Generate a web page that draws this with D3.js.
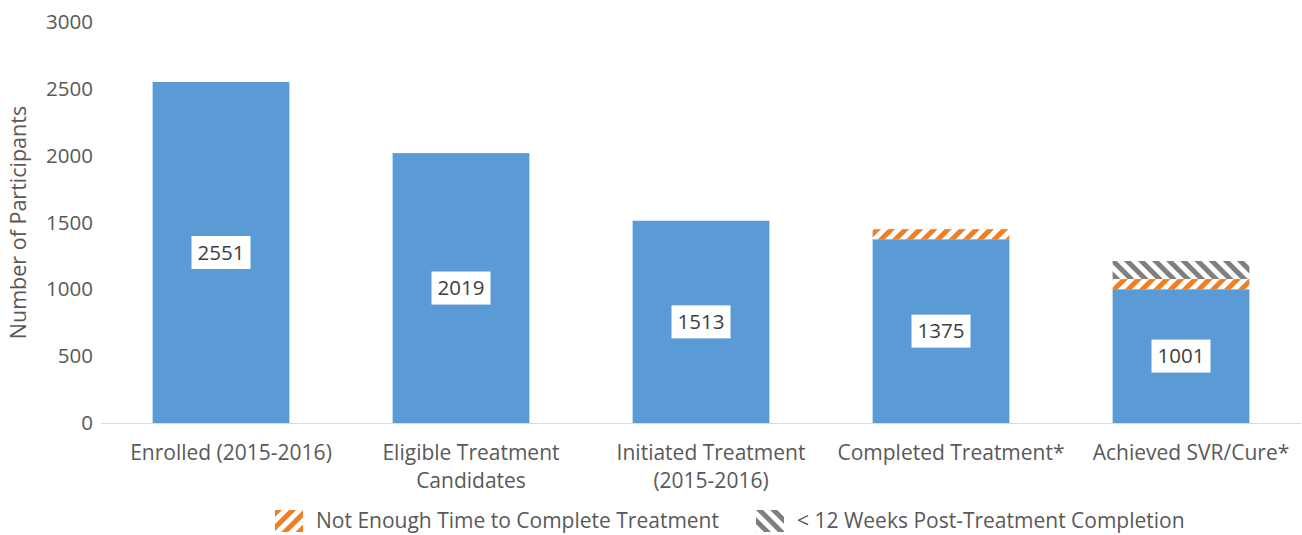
<!DOCTYPE html>
<html lang="en">
<head>
	<meta charset="UTF-8">
	<title>Participants cascade</title>
	<script src="https://d3js.org/d3.v7.min.js"></script>
	<style>
		*{
			margin: 0px;
			box-sizing: border-box;
		}
		html,body{
			width:1302px;
			height:535px;
			overflow: hidden;
			background:#fff;
		}
		text{
			font-family: "Open Sans", Lato, sans-serif;
			fill:#595959;
		}
		.yAxis path,.yAxis line{
			stroke:none;
		}
		.yAxis text{
			font-size: 20.5px;
		}
	</style>
</head>
<body>
	<svg id="svg"></svg>
	<script>
		// data
		var categories = [
			["Enrolled (2015-2016)"],
			["Eligible Treatment", "Candidates"],
			["Initiated Treatment", "(2015-2016)"],
			["Completed Treatment*"],
			["Achieved SVR/Cure*"]
		];
		var participants = [2551, 2019, 1513, 1375, 1001];
		var notEnoughTime = [0, 0, 0, 75, 76];
		var under12Weeks = [0, 0, 0, 0, 135];
		var yTicks = [0, 500, 1000, 1500, 2000, 2500, 3000];
		var legendLabels = ["Not Enough Time to Complete Treatment", "< 12 Weeks Post-Treatment Completion"];

		var w = 1302, h = 535,
			margin = {left: 101, right: 1, top: 22, bottom: 112},
			svg = d3.select("#svg").attr("width", w).attr("height", h);

		var defs = svg.append("defs");
		function hatch(id, color, angle) {
			var p = defs.append("pattern")
				.attr("id", id)
				.attr("patternUnits", "userSpaceOnUse")
				.attr("width", 10).attr("height", 10)
				.attr("patternTransform", "rotate(" + angle + ")");
			p.append("rect").attr("width", 10).attr("height", 10).attr("fill", "#fff");
			p.append("rect").attr("width", 5).attr("height", 10).attr("fill", color);
		}
		hatch("hOrange", "#f07f24", 45);
		hatch("hGray", "#7f7f7f", -45);

		var x = d3.scaleBand()
			.domain(d3.range(categories.length))
			.range([margin.left, w - margin.right])
			.paddingInner(0.43)
			.paddingOuter(0.215);
		var y = d3.scaleLinear()
			.domain([0, 3000])
			.range([h - margin.bottom, margin.top]);

		svg.append("g").attr("class", "yAxis")
			.attr("transform", "translate(" + (margin.left - 8) + ",0)")
			.call(d3.axisLeft(y).tickValues(yTicks).tickFormat(d3.format("d")).tickSize(0).tickPadding(0));

		svg.append("line")
			.attr("x1", margin.left).attr("x2", w - margin.right)
			.attr("y1", y(0) + 0.5).attr("y2", y(0) + 0.5)
			.attr("stroke", "#d9d9d9").attr("stroke-width", 1);

		// category labels (sit a little right of the bar centre in the original)
		var labels = svg.append("g").selectAll("text")
			.data(categories)
			.enter().append("text")
			.attr("text-anchor", "middle")
			.attr("font-size", "21px")
			.attr("x", function(d, i) { return x(i) + x.bandwidth() / 2 + 10; })
			.attr("y", y(0) + 37);
		labels.selectAll("tspan")
			.data(function(d) { return d; })
			.enter().append("tspan")
			.attr("x", function() { return d3.select(this.parentNode).attr("x"); })
			.attr("dy", function(d, j) { return j == 0 ? 0 : 28; })
			.text(function(d) { return d; });

		// bars
		var bars = svg.append("g");
		bars.selectAll("rect.main")
			.data(participants)
			.enter().append("rect")
			.attr("class", "main")
			.attr("x", function(d, i) { return x(i); })
			.attr("width", x.bandwidth())
			.attr("y", function(d) { return y(d); })
			.attr("height", function(d) { return y(0) - y(d); })
			.attr("fill", "#5b9bd5");

		bars.selectAll("rect.orange")
			.data(notEnoughTime)
			.enter().append("rect")
			.attr("class", "orange")
			.attr("x", function(d, i) { return x(i); })
			.attr("width", x.bandwidth())
			.attr("y", function(d, i) { return y(participants[i] + d); })
			.attr("height", function(d, i) { return y(participants[i]) - y(participants[i] + d); })
			.attr("fill", "url(#hOrange)");

		bars.selectAll("rect.gray")
			.data(under12Weeks)
			.enter().append("rect")
			.attr("class", "gray")
			.attr("x", function(d, i) { return x(i); })
			.attr("width", x.bandwidth())
			.attr("y", function(d, i) { return y(participants[i] + notEnoughTime[i] + d); })
			.attr("height", function(d, i) {
				var base = participants[i] + notEnoughTime[i];
				return y(base) - y(base + d);
			})
			.attr("fill", "url(#hGray)");

		// value labels in white boxes
		var vl = svg.append("g").selectAll("g")
			.data(participants)
			.enter().append("g")
			.attr("transform", function(d, i) {
				return "translate(" + (x(i) + x.bandwidth() / 2) + "," + ((y(d) + y(0)) / 2) + ")";
			});
		vl.append("rect")
			.attr("x", -29.5).attr("y", -16.5)
			.attr("width", 59).attr("height", 33)
			.attr("fill", "#fff");
		vl.append("text")
			.attr("text-anchor", "middle")
			.attr("dy", "0.35em")
			.attr("font-size", "20.5px")
			.style("fill", "#404040")
			.text(function(d) { return d; });

		// axis title
		svg.append("text")
			.attr("transform", "translate(18," + ((margin.top + y(0)) / 2) + ") rotate(-90)")
			.attr("text-anchor", "middle")
			.attr("dy", "0.35em")
			.attr("font-size", "21.5px")
			.text("Number of Participants");

		// legend
		var legendX = [275, 756];
		var legendFill = ["url(#hOrange)", "url(#hGray)"];
		var lg = svg.append("g").selectAll("g")
			.data(legendLabels)
			.enter().append("g")
			.attr("transform", function(d, i) { return "translate(" + legendX[i] + ",510)"; });
		lg.append("rect")
			.attr("width", 28).attr("height", 22)
			.attr("fill", function(d, i) { return legendFill[i]; });
		lg.append("text")
			.attr("x", 41)
			.attr("y", 11)
			.attr("dy", "0.35em")
			.attr("font-size", "21px")
			.text(function(d) { return d; });
	</script>
</body>
</html>
